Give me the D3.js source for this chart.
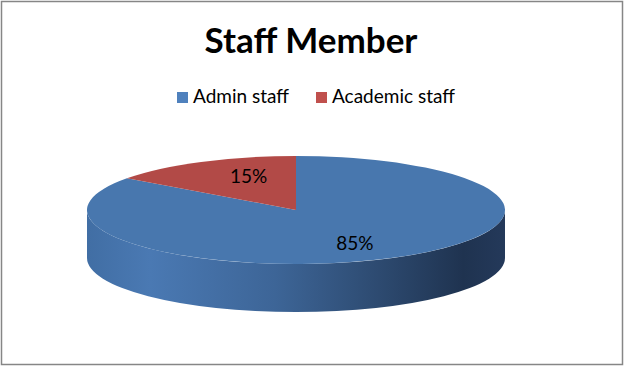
<!DOCTYPE html>
<html>
<head>
<meta charset="utf-8">
<script src="https://cdn.jsdelivr.net/npm/d3@7"></script>
<style>
  body { margin: 0; background: #fff; }
  svg { display: block; }
</style>
</head>
<body>
<script>
// chart data
const categories = ["Admin staff", "Academic staff"];
const values = [85, 15];
const topColors = ["#4877ae", "#b24a47"];
const legendColors = ["#4f81bd", "#c0504d"];

const width = 626, height = 368;
const cx = 296, cy = 210, rx = 209, ry = 54, depth = 48;
// label placement, as a fraction of the radius (Excel doesn't quite use the centroid)
const labelR = [0.62, 0.5];

const svg = d3.select("body").append("svg")
  .attr("width", width)
  .attr("height", height)
  .attr("font-family", "Lato, 'Open Sans', sans-serif");

svg.append("rect")
  .attr("x", 1.5).attr("y", 1.5)
  .attr("width", 621).attr("height", 363)
  .attr("fill", "#fff")
  .attr("stroke", "#868686")
  .attr("stroke-width", 1.5);

svg.append("text")
  .attr("x", 311).attr("y", 53)
  .attr("text-anchor", "middle")
  .attr("font-size", 35)
  .attr("font-weight", "bold")
  .text("Staff Member");

// legend
const legendX = [177, 316];
const lg = svg.append("g").selectAll("g")
  .data(categories)
  .join("g")
  .attr("transform", (d, i) => `translate(${legendX[i]},92)`);
lg.append("rect")
  .attr("width", 11).attr("height", 11)
  .attr("fill", (d, i) => legendColors[i]);
lg.append("text")
  .attr("x", 16).attr("y", 11)
  .attr("font-size", 19)
  .attr("fill", "#000")
  .text(d => d);

// pie layout, clockwise from 12 o'clock
const pie = d3.pie().sort(null).value(d => d);
const arcs = pie(values);
const total = d3.sum(values);

const pt = (a, dy = 0) => [cx + rx * Math.sin(a), cy - ry * Math.cos(a) + dy];

// side gradient
const defs = svg.append("defs");
const grad = defs.append("linearGradient")
  .attr("id", "side")
  .attr("gradientUnits", "userSpaceOnUse")
  .attr("x1", cx - rx).attr("x2", cx + rx)
  .attr("y1", 0).attr("y2", 0);
[[0, "#416ea4"], [0.15, "#4a79b3"], [0.45, "#3d6597"], [0.7, "#2d4a70"], [0.9, "#1f3350"], [1, "#24395a"]]
  .forEach(([o, c]) => grad.append("stop").attr("offset", o).attr("stop-color", c));

// side walls (front half only)
arcs.forEach((d, i) => {
  const s = Math.max(d.startAngle, Math.PI / 2);
  const e = Math.min(d.endAngle, 3 * Math.PI / 2);
  if (e <= s) return;
  const p0 = pt(s), p1 = pt(e), q1 = pt(e, depth), q0 = pt(s, depth);
  svg.append("path")
    .attr("d", `M${p0}A${rx},${ry} 0 0 1 ${p1}L${q1}A${rx},${ry} 0 0 0 ${q0}Z`)
    .attr("fill", i === 0 ? "url(#side)" : "#8a3533");
});

// top faces
svg.append("g").selectAll("path")
  .data(arcs)
  .join("path")
  .attr("d", d => {
    const p0 = pt(d.startAngle), p1 = pt(d.endAngle);
    const large = d.endAngle - d.startAngle > Math.PI ? 1 : 0;
    return `M${cx},${cy}L${p0}A${rx},${ry} 0 ${large} 1 ${p1}Z`;
  })
  .attr("fill", (d, i) => topColors[i]);

// percentage labels
svg.append("g").selectAll("text")
  .data(arcs)
  .join("text")
  .attr("x", (d, i) => cx + labelR[i] * rx * Math.sin((d.startAngle + d.endAngle) / 2))
  .attr("y", (d, i) => cy - 0.7 * ry * Math.cos((d.startAngle + d.endAngle) / 2))
  .attr("dy", "0.35em")
  .attr("text-anchor", "middle")
  .attr("font-size", 19)
  .attr("fill", "#000")
  .text(d => Math.round(d.value / total * 100) + "%");
</script>
</body>
</html>
